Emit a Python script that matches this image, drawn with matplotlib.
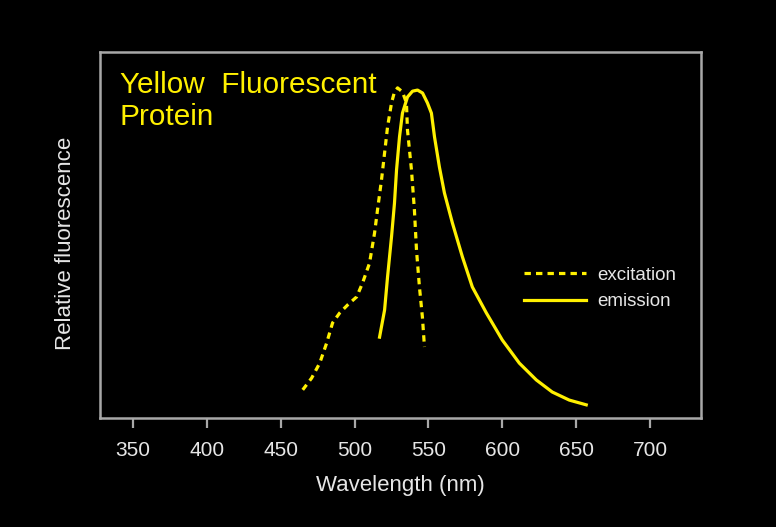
import matplotlib
matplotlib.use("Agg")
import matplotlib.pyplot as plt

plt.rcParams["font.family"] = ["Liberation Sans", "DejaVu Sans"]

# excitation spectrum (dashed)
ex_wavelength = [464.9, 470.9, 476.4, 481.1, 485.1, 489.9, 495.3, 501.4, 505.4, 510.1,
                 513.5, 515.5, 518.2, 520.3, 522.3, 525.0, 527.0, 529.1, 532.4, 535.1,
                 535.8, 538.5, 540.5, 541.9, 543.9, 545.9, 547.3]
ex_intensity = [0.077, 0.109, 0.150, 0.205, 0.260, 0.287, 0.309, 0.331, 0.369, 0.423,
                0.505, 0.568, 0.650, 0.724, 0.795, 0.861, 0.891, 0.902, 0.891, 0.861,
                0.787, 0.678, 0.568, 0.459, 0.358, 0.276, 0.194]

# emission spectrum (solid)
em_wavelength = [516.9, 520.3, 522.3, 525.0, 527.0, 528.4, 530.4, 532.4, 535.8, 539.2,
                 542.6, 546.0, 549.3, 552.0, 554.1, 557.4, 560.8, 566.2, 573.0, 579.7,
                 589.2, 600.0, 611.5, 623.0, 633.8, 645.3, 656.8]
em_intensity = [0.221, 0.295, 0.385, 0.495, 0.587, 0.678, 0.768, 0.833, 0.877, 0.893,
                0.896, 0.888, 0.861, 0.833, 0.768, 0.686, 0.615, 0.533, 0.440, 0.358,
                0.287, 0.213, 0.150, 0.104, 0.071, 0.049, 0.036]

x_ticks = [350, 400, 450, 500, 550, 600, 650, 700]

yellow = "#fff000"
grey = "#a8a8a8"
text_col = "#e6e6e6"

fig = plt.figure(figsize=(7.76, 5.27), dpi=100, facecolor="black")
ax = fig.add_axes([0.1289, 0.2068, 0.7745, 0.6945], facecolor="black")

ax.plot(ex_wavelength, ex_intensity, color=yellow, linewidth=2.3,
        dashes=(2, 1.6), label="excitation")
ax.plot(em_wavelength, em_intensity, color=yellow, linewidth=2.3,
        solid_joinstyle="round", label="emission")

ax.set_xlim(327.7, 734.5)
ax.set_ylim(0, 1)
ax.set_xticks(x_ticks)
ax.set_xticklabels([str(t) for t in x_ticks])
ax.set_yticks([])
ax.tick_params(axis="x", direction="out", length=7, width=1.6, color=grey,
               labelcolor=text_col, labelsize=15, pad=9.5)

for side in ax.spines.values():
    side.set_color(grey)
    side.set_linewidth(1.8)

ax.set_xlabel("Wavelength (nm)", color=text_col, fontsize=16, labelpad=11)
ax.set_ylabel("Relative fluorescence", color=text_col, fontsize=16)
ax.yaxis.set_label_coords(-0.04, 0.477)

ax.text(0.033, 0.949, "Yellow  Fluorescent\nProtein", transform=ax.transAxes,
        color=yellow, fontsize=21.4, va="top", ha="left", linespacing=1.2)

leg = ax.legend(loc="upper left", bbox_to_anchor=(0.706, 0.414), frameon=False,
                fontsize=13.5, handlelength=3.3, handletextpad=0.6,
                labelspacing=0.5, borderpad=0, borderaxespad=0)
for t in leg.get_texts():
    t.set_color(text_col)

fig.savefig("out.png", dpi=100, facecolor="black")
